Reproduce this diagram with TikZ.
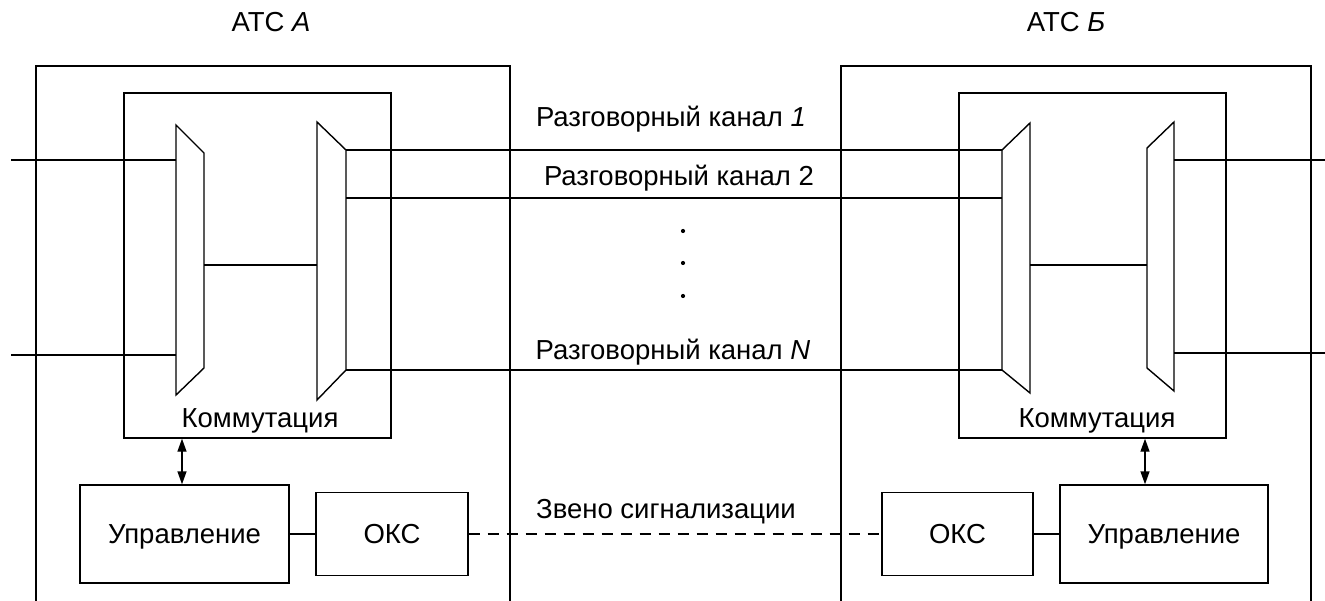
\documentclass[tikz,border=0pt]{standalone}
\usepackage{fontspec}
\setmainfont{Liberation Sans}
\usetikzlibrary{arrows.meta}
\begin{document}
\begin{tikzpicture}[x=1pt,y=-1pt,line width=1.4pt,
  box/.style={draw,inner sep=0pt,text height=19pt,text depth=0pt,
    font=\fontsize{27.5}{32}\selectfont},
  lbl/.style={anchor=base,inner sep=0pt,font=\fontsize{27.5}{32}\selectfont},
  arr/.style={{Triangle[length=13pt,width=9pt]}-{Triangle[length=13pt,width=9pt]}},
  sig/.style={dash pattern=on 11pt off 8pt}]
\useasboundingbox (0,0) rectangle (1325,601);

% exchange enclosures (open at the bottom)
\draw (36,606) |- (510,66) -- (510,606);
\draw (841,606) |- (1311,66) -- (1311,606);

% switching fields
\node[draw,inner sep=0pt,minimum width=267pt,minimum height=345pt] (swA) at (257.5,265.5) {};
\node[draw,inner sep=0pt,minimum width=267pt,minimum height=345pt] (swB) at (1092.5,265.5) {};

% control and signalling units
\node[box,minimum width=209pt,minimum height=98pt] (ctlA) at (184.5,534) {Управление};
\node[box,minimum width=152pt,minimum height=83pt] (oksA) at (392,534) {ОКС};
\node[box,minimum width=151pt,minimum height=83pt] (oksB) at (957.5,534) {ОКС};
\node[box,minimum width=208pt,minimum height=98pt] (ctlB) at (1164,534) {Управление};

% multiplexer corners, exchange A
\coordinate (mA1tl) at (176,125); \coordinate (mA1tr) at (204,153);
\coordinate (mA1br) at (204,368); \coordinate (mA1bl) at (176,395);
\coordinate (mA2tl) at (317,122); \coordinate (mA2tr) at (346,150);
\coordinate (mA2br) at (346,370); \coordinate (mA2bl) at (317,400);
% multiplexer corners, exchange B
\coordinate (mB1tl) at (1002,150); \coordinate (mB1tr) at (1030,123);
\coordinate (mB1br) at (1030,393); \coordinate (mB1bl) at (1002,370);
\coordinate (mB2tl) at (1147,148); \coordinate (mB2tr) at (1174,122);
\coordinate (mB2br) at (1174,391); \coordinate (mB2bl) at (1147,368);

\draw (mA1tl) -- (mA1tr) -- (mA1br) -- (mA1bl) -- cycle;
\draw (mA2tl) -- (mA2tr) -- (mA2br) -- (mA2bl) -- cycle;
\draw (mB1tl) -- (mB1tr) -- (mB1br) -- (mB1bl) -- cycle;
\draw (mB2tl) -- (mB2tr) -- (mB2br) -- (mB2bl) -- cycle;

% subscriber lines
\coordinate (inA1) at (11,160); \coordinate (inA2) at (11,355);
\coordinate (outB1) at (1326,160); \coordinate (outB2) at (1326,353);
\draw (inA1) -- (inA1 -| mA1tl);
\draw (inA2) -- (inA2 -| mA1tl);
\draw (outB1 -| mB2tr) -- (outB1);
\draw (outB2 -| mB2tr) -- (outB2);

% internal links
\draw (mA1tr |- 0,265) -- (mA2tl |- 0,265);
\draw (mB1tr |- 0,265) -- (mB2tl |- 0,265);

% speech channels
\draw (mA2tr) -- (mB1tl);
\draw (mA2tr |- 0,198) -- (mB1tl |- 0,198);
\draw (mA2br) -- (mB1bl);

% control links
\draw[arr] (swA.south -| ctlA.north) ++(-2.5,0) coordinate (aA) -- (aA |- ctlA.north);
\draw[arr] ([xshift=-19pt]ctlB.north |- swB.south) coordinate (aB) -- (aB |- ctlB.north);
\draw (ctlA) -- (oksA);
\draw (oksB) -- (ctlB);
\draw[sig] (oksA) -- (oksB);

% labels
\node[lbl] (tA) at (271,32) {АТС \textit{А}};
\node[lbl] (tB) at (1066,32) {АТС \textit{Б}};
\node[lbl] (c1) at (671,127) {Разговорный канал \textit{1}};
\node[lbl] (c2) at (679,186) {Разговорный канал 2};
\node[lbl] (cN) at (673,360) {Разговорный канал \textit{N}};
\node[lbl] (sl) at (666,518) {Звено сигнализации};
\node[lbl] (kA) at (260,427) {Коммутация};
\node[lbl] (kB) at (1097,427) {Коммутация};
\foreach \yy [count=\i] in {231,263,296}
  \fill (683,\yy) circle (2.1pt) coordinate (dot\i);
\end{tikzpicture}
\end{document}
